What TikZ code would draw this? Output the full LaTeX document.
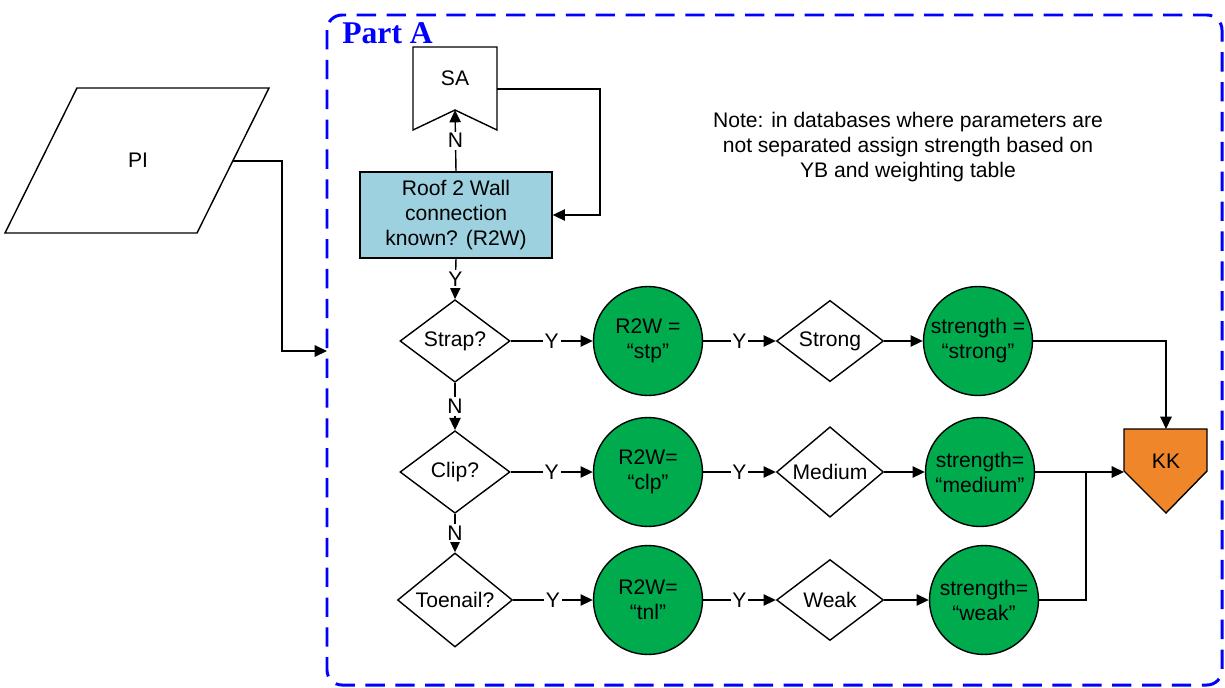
\documentclass[tikz,border=0pt]{standalone}
\usepackage{fontspec}
\setmainfont{Liberation Sans}
\newfontfamily\partfont{Liberation Serif}
\usetikzlibrary{shapes.geometric,arrows.meta}
\definecolor{boxblue}{HTML}{9DD1DF}
\definecolor{okgreen}{HTML}{00AB4E}
\definecolor{kkorange}{HTML}{F0862A}
\tikzset{
	arr/.style={line width=0.8pt, -{Triangle[length=7pt,width=6.5pt]}},
	lbl/.style={fill=white, inner sep=1pt},
	query/.style={diamond, draw, line width=0.8pt, fill=white, minimum width=2.2cm, minimum height=1.65cm, inner sep=0pt},
	setval/.style={circle, draw, line width=0.8pt, fill=okgreen, minimum size=2.18cm, inner sep=0pt, align=center},
}

\begin{document}
\begin{tikzpicture}[x=0.02cm, y=-0.02cm, font=\fontsize{12}{14.2}\selectfont]
				\useasboundingbox (0,0) rectangle (1225,687);
				\draw[blue, line width=1.7pt, dash pattern=on 11pt off 6pt, rounded corners=0.3cm] (327,15) rectangle (1222,685);
				\node[anchor=base west, blue, inner sep=0pt, font=\partfont\bfseries\fontsize{18}{20}\selectfont] (parta) at (342,43) {Part A};
				\draw[line width=0.8pt] (77,88) -- (269,88) -- (197,233) -- (5,233) -- cycle;
				\node (pi) at (138,160) {PI};
				\coordinate (piout) at (233,161);
				\coordinate (partin) at (327,351);
				\draw[line width=0.8pt, fill=white] (413,47) -- (497,47) -- (497,130) -- (455,110) -- (413,130) -- cycle;
				\node (sa) at (455,78) {SA};
				\coordinate (sanotch) at (455,110);
				\coordinate (saout) at (497,89);
				\node[draw, line width=0.8pt, fill=boxblue, minimum width=3.84cm, minimum height=1.72cm, align=center] (r2w) at (456,215) {Roof 2 Wall\\connection\\known? (R2W)};
				\node[align=center] (note) at (908,147) {Note: in databases where parameters are\\not separated assign strength based on\\YB and weighting table};
				\node[query] (strap) at (455,341) {Strap?};
				\node[query] (clip) at (455,472) {Clip?};
				\node[query, minimum width=2.3cm] (toenail) at (455,600) {Toenail?};
				\node[setval] (stp) at (648,341) {R2W =\\“stp”};
				\node[setval] (clp) at (648,472) {R2W=\\“clp”};
				\node[setval] (tnl) at (648,600) {R2W=\\“tnl”};
				\node[query, minimum width=2.14cm, minimum height=1.62cm] (strong) at (830,341) {Strong};
				\node[query, minimum width=2.14cm, minimum height=1.62cm] (medium) at (830,472) {Medium};
				\node[query, minimum width=2.14cm, minimum height=1.62cm] (weak) at (830,600) {Weak};
				\node[setval] (sstrong) at (978,341) {strength =\\“strong”};
				\node[setval] (smedium) at (980,472) {strength=\\“medium”};
				\node[setval] (sweak) at (984,600) {strength=\\“weak”};
				\draw[line width=0.8pt, fill=kkorange] (1124,429) -- (1207,429) -- (1207,471) -- (1166,513) -- (1124,471) -- cycle;
				\node (kk) at (1166,461) {KK};
				\coordinate (kktop) at (1166,429);
				\coordinate (kkleft) at (1124,472);
				\draw[arr] (piout) -- (282,161) |- (partin);
				\draw[arr] (r2w.north) -- node[lbl]{N} (sanotch);
				\draw[arr] (saout) -- (600,89) |- (r2w.east);
				\draw[arr] (r2w.south) -- node[lbl]{Y} (strap.north);
				\draw[arr] (strap.south) -- node[lbl]{N} (clip.north);
				\draw[arr] (clip.south) -- node[lbl]{N} (toenail.north);
				\draw[arr] (strap.east) -- node[lbl]{Y} (stp.west);
				\draw[arr] (clip.east) -- node[lbl]{Y} (clp.west);
				\draw[arr] (toenail.east) -- node[lbl]{Y} (tnl.west);
				\draw[arr] (stp.east) -- node[lbl]{Y} (strong.west);
				\draw[arr] (clp.east) -- node[lbl]{Y} (medium.west);
				\draw[arr] (tnl.east) -- node[lbl]{Y} (weak.west);
				\draw[arr] (strong.east) -- (sstrong.west);
				\draw[arr] (medium.east) -- (smedium.west);
				\draw[arr] (weak.east) -- (sweak.west);
				\draw[arr] (sstrong.east) -| (kktop);
				\draw[arr] (smedium.east) -- (kkleft);
				\draw[line width=0.8pt] (sweak.east) -| (1086,472);
\end{tikzpicture}
\end{document}
